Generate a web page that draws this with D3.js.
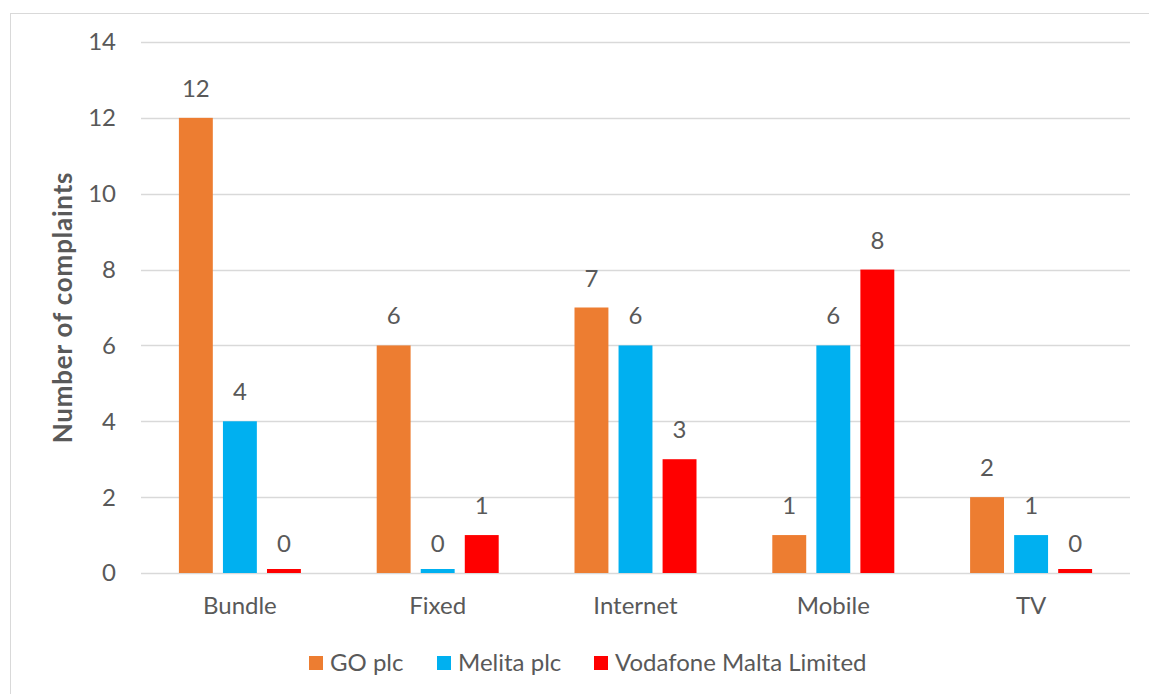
<!DOCTYPE html>
<meta charset="utf-8">
<style>
body { margin: 0; background: #fff; }
text { font-family: Lato, "Open Sans", sans-serif; fill: #595959; }
</style>
<svg width="1149" height="694"></svg>
<script src="https://cdn.jsdelivr.net/npm/d3@7"></script>
<script>

var categories = ["Bundle", "Fixed", "Internet", "Mobile", "TV"];
var seriesNames = ["GO plc", "Melita plc", "Vodafone Malta Limited"];
var goValues = [12, 6, 7, 1, 2];
var melitaValues = [4, 0, 6, 6, 1];
var vodafoneValues = [0, 1, 3, 8, 0];
var yTicks = [0, 2, 4, 6, 8, 10, 12, 14];
var colors = ["#ED7D31", "#00B0F0", "#FF0000"];

var series = [goValues, melitaValues, vodafoneValues];

var svg = d3.select("svg");

// chart frame
svg.append("rect")
    .attr("x", 10.5).attr("y", 13.5)
    .attr("width", 1160).attr("height", 700)
    .attr("fill", "none")
    .attr("stroke", "#d9d9d9")
    .attr("stroke-width", 1);

var plotLeft = 141, plotRight = 1130, plotTop = 42, plotBottom = 573;

var x = d3.scaleBand()
    .domain(categories)
    .range([plotLeft, plotRight]);

var x1 = d3.scaleBand()
    .domain(d3.range(series.length))
    .range([0, 122])
    .paddingInner(0.23);

var y = d3.scaleLinear()
    .domain([0, 14])
    .range([plotBottom, plotTop]);

// gridlines
svg.append("g").selectAll("line")
    .data(yTicks)
    .enter().append("line")
    .attr("x1", plotLeft).attr("x2", plotRight)
    .attr("y1", function(d) { return Math.round(y(d)) + 0.5; })
    .attr("y2", function(d) { return Math.round(y(d)) + 0.5; })
    .attr("stroke", "#d9d9d9")
    .attr("stroke-width", 1.5);

// y axis labels
svg.append("g").selectAll("text")
    .data(yTicks)
    .enter().append("text")
    .attr("x", 116)
    .attr("y", function(d) { return y(d); })
    .attr("dy", "0.35em")
    .attr("text-anchor", "end")
    .style("font-size", "24px")
    .text(function(d) { return d; });

// category labels
svg.append("g").selectAll("text")
    .data(categories)
    .enter().append("text")
    .attr("x", function(d) { return x(d) + x.bandwidth() / 2; })
    .attr("y", 614)
    .attr("text-anchor", "middle")
    .style("font-size", "24px")
    .text(function(d) { return d; });

// bars
var groups = svg.append("g").selectAll("g")
    .data(series)
    .enter().append("g")
    .attr("fill", function(d, i) { return colors[i]; });

groups.each(function(vals, si) {
  var g = d3.select(this);
  var data = vals.map(function(v, ci) { return { cat: categories[ci], v: v }; });
  g.selectAll("rect")
    .data(data)
    .enter().append("rect")
    .attr("x", function(d) { return x(d.cat) + (x.bandwidth() - 122) / 2 + x1(si); })
    .attr("width", x1.bandwidth())
    .attr("y", function(d) { return Math.min(y(d.v), plotBottom - 4); })
    .attr("height", function(d) { return Math.max(plotBottom - y(d.v), 4); });
  g.selectAll("text")
    .data(data)
    .enter().append("text")
    .attr("x", function(d) { return x(d.cat) + (x.bandwidth() - 122) / 2 + x1(si) + x1.bandwidth() / 2; })
    .attr("y", function(d) { return y(d.v) - 21; })
    .attr("text-anchor", "middle")
    .style("font-size", "24px")
    .text(function(d) { return d.v; });
});

// y title
svg.append("text")
    .attr("transform", "translate(72," + ((plotTop + plotBottom) / 2) + ") rotate(-90)")
    .attr("text-anchor", "middle")
    .style("font-size", "26px")
    .style("letter-spacing", "0.8px")
    .style("font-weight", "bold")
    .text("Number of complaints");

// legend
var legendX = [309, 437, 594];
var legend = svg.append("g").selectAll("g")
    .data(seriesNames)
    .enter().append("g")
    .attr("transform", function(d, i) { return "translate(" + legendX[i] + ",656)"; });

legend.append("rect")
    .attr("width", 14).attr("height", 14)
    .attr("fill", function(d, i) { return colors[i]; });

legend.append("text")
    .attr("x", 21)
    .attr("y", 7)
    .attr("dy", "0.35em")
    .style("font-size", "24px")
    .text(function(d) { return d; });

</script>
